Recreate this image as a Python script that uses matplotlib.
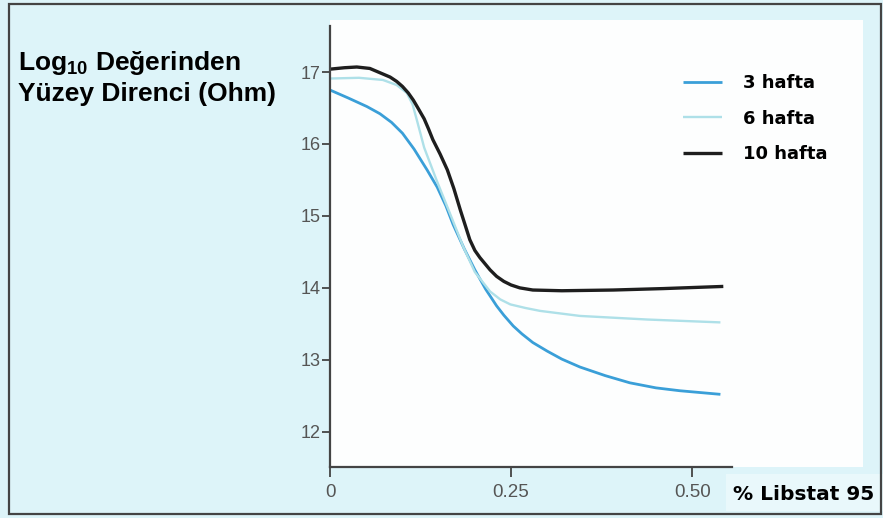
import matplotlib
matplotlib.use("Agg")
import matplotlib.pyplot as plt
from matplotlib.patches import Rectangle

# Yüzey direnci vs % Libstat 95

x_3 = [0, 0.025, 0.051, 0.069, 0.085, 0.100, 0.116, 0.134, 0.148, 0.160, 0.170, 0.185, 0.200,
       0.215, 0.230, 0.240, 0.253, 0.265, 0.280, 0.300, 0.320, 0.345, 0.380, 0.414, 0.450, 0.483, 0.539]
y_3 = [16.75, 16.64, 16.52, 16.42, 16.30, 16.15, 15.93, 15.64, 15.40, 15.14, 14.88, 14.55, 14.25,
       13.98, 13.75, 13.62, 13.47, 13.36, 13.24, 13.12, 13.01, 12.90, 12.78, 12.68, 12.61, 12.57, 12.52]

x_6 = [0, 0.040, 0.073, 0.092, 0.106, 0.114, 0.120, 0.130, 0.147, 0.165, 0.184, 0.200, 0.221,
       0.235, 0.249, 0.270, 0.290, 0.345, 0.438, 0.539]
y_6 = [16.91, 16.92, 16.89, 16.82, 16.71, 16.55, 16.33, 15.95, 15.50, 15.05, 14.57, 14.22, 13.95,
       13.84, 13.77, 13.72, 13.68, 13.61, 13.56, 13.52]

x_10 = [0, 0.020, 0.037, 0.055, 0.069, 0.083, 0.092, 0.100, 0.108, 0.115, 0.122, 0.130, 0.136,
        0.142, 0.152, 0.162, 0.171, 0.180, 0.187, 0.193, 0.200, 0.207, 0.221, 0.230, 0.240, 0.250,
        0.262, 0.280, 0.320, 0.391, 0.460, 0.543]
y_10 = [17.04, 17.06, 17.07, 17.05, 16.99, 16.93, 16.87, 16.80, 16.71, 16.61, 16.49, 16.35, 16.21,
        16.06, 15.86, 15.64, 15.38, 15.08, 14.86, 14.67, 14.52, 14.42, 14.25, 14.16, 14.09, 14.04,
        14.00, 13.97, 13.96, 13.97, 13.99, 14.02]

labels = ["3 hafta", "6 hafta", "10 hafta"]
colors = ["#3a9fd8", "#aee0e8", "#1e1e1e"]
widths = [2.0, 1.7, 2.4]

x_ticks = [0, 0.25, 0.50]
x_ticklabels = ["0", "0.25", "0.50"]
y_ticks = [12, 13, 14, 15, 16, 17]

plt.rcParams['mathtext.fontset'] = 'custom'
plt.rcParams['mathtext.rm'] = 'Liberation Sans:bold'
plt.rcParams['mathtext.bf'] = 'Liberation Sans:bold'
plt.rcParams['mathtext.it'] = 'Liberation Sans:bold'

W, H = 883, 518
fig = plt.figure(figsize=(W / 100, H / 100), dpi=100)
fig.patch.set_facecolor("#ddf4f9")

def fx(px):
    return px / W

def fy(py):
    return 1 - py / H

# white panel behind the plot
fig.patches.append(Rectangle((fx(330), fy(467)), fx(863) - fx(330), fy(20) - fy(467),
                             transform=fig.transFigure, facecolor="#fdfefe", edgecolor="none", zorder=-2))
# light box behind axis title
fig.patches.append(Rectangle((fx(726), fy(511)), fx(883) - fx(726), fy(474) - fy(511),
                             transform=fig.transFigure, facecolor="#e9f8fb", edgecolor="none", zorder=-2))
# outer frame
fig.patches.append(Rectangle((fx(9), fy(514)), fx(881) - fx(9), fy(4) - fy(514),
                             transform=fig.transFigure, facecolor="none", edgecolor="#444444",
                             linewidth=1.6, zorder=5))

ax = fig.add_axes([fx(330), fy(467), fx(732) - fx(330), fy(26) - fy(467)])
ax.set_facecolor("none")

for xs, ys, lab, c, lw in zip([x_3, x_6, x_10], [y_3, y_6, y_10], labels, colors, widths):
    ax.plot(xs, ys, color=c, lw=lw, label=lab, solid_joinstyle="round", solid_capstyle="butt")

ax.set_xlim(0, 0.555)
ax.set_ylim(11.51, 17.64)
ax.set_xticks(x_ticks)
ax.set_xticklabels(x_ticklabels)
ax.set_yticks(y_ticks)

for s in ["top", "right"]:
    ax.spines[s].set_visible(False)
for s in ["left", "bottom"]:
    ax.spines[s].set_color("#444444")
    ax.spines[s].set_linewidth(1.6)

tick_font = ["Liberation Sans Narrow", "Liberation Sans", "DejaVu Sans"]
ax.tick_params(axis="y", direction="out", length=6, width=1.3, color="#444444", pad=1,
               labelsize=13, labelcolor="#555555")
ax.tick_params(axis="x", direction="out", length=7, width=1.3, color="#444444", pad=5,
               labelsize=13.5, labelcolor="#555555")
for t in ax.get_xticklabels() + ax.get_yticklabels():
    t.set_family(tick_font)

leg = ax.legend(loc="upper left", bbox_to_anchor=(fx(683), fy(74)), bbox_transform=fig.transFigure,
                frameon=False, borderpad=0, borderaxespad=0, handlelength=2.17, handletextpad=1.15,
                labelspacing=0.98, prop={"family": "DejaVu Sans", "weight": "bold", "size": 13})

fig.text(fx(18), fy(70), "Log$_{10}$ Değerinden", family="Liberation Sans", weight="bold",
         fontsize=19, va="baseline", ha="left")
fig.text(fx(18), fy(101), "Yüzey Direnci (Ohm)", family="Liberation Sans", weight="bold",
         fontsize=19, va="baseline", ha="left")
fig.text(fx(733), fy(500), "% Libstat 95", family="DejaVu Sans", weight="bold",
         fontsize=14.5, va="baseline", ha="left")

fig.savefig("out.png", dpi=100)
